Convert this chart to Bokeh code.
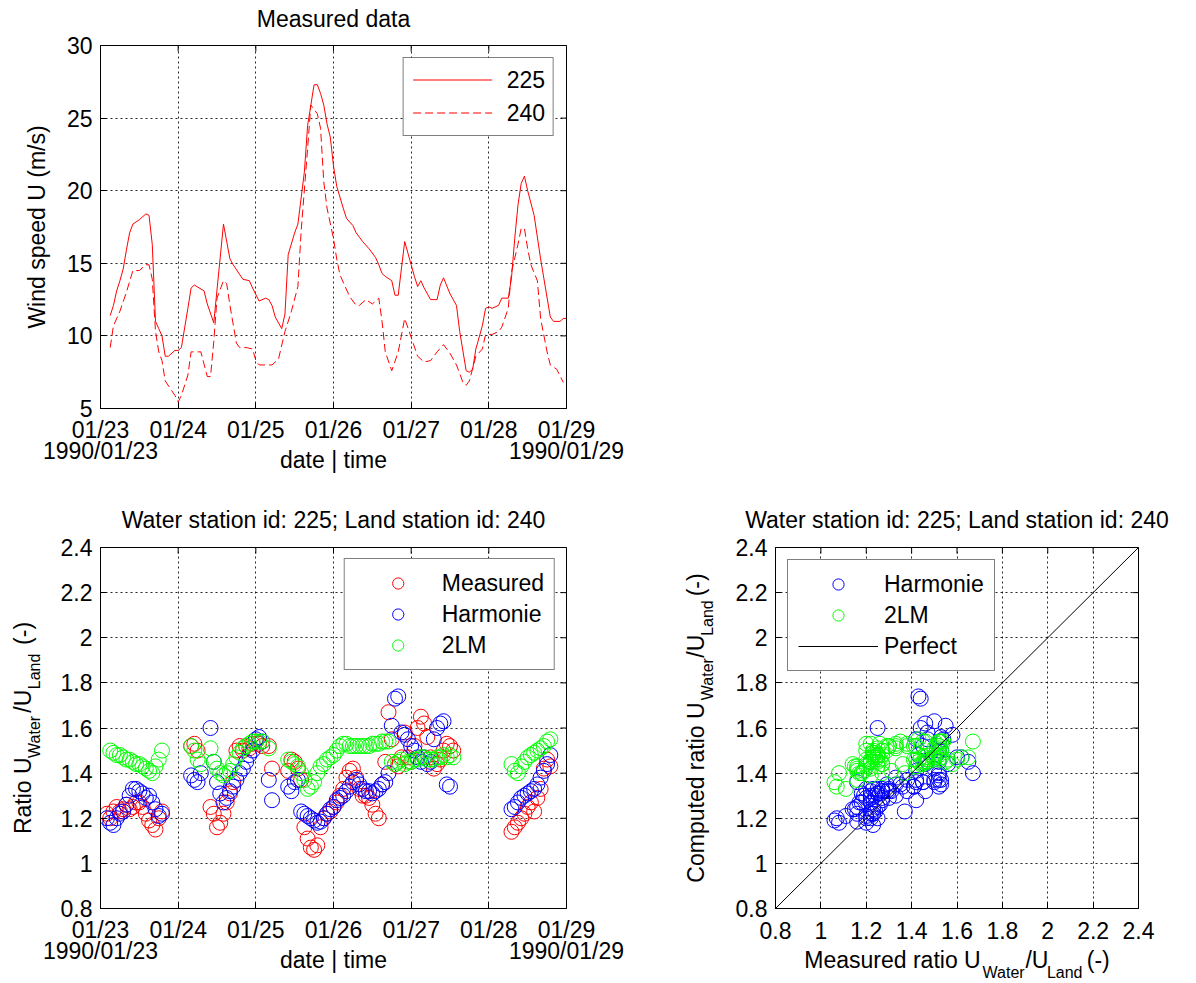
import math
import numpy as np
from bokeh.plotting import figure
from bokeh.models import Range1d, FixedTicker, LinearAxis, Legend, LegendItem, BoxAnnotation
from bokeh.layouts import column, row
from bokeh.embed import file_html
from bokeh.resources import INLINE

FONT = "Liberation Sans"
FS = 23
FSS = 16
NBSP = "\u00a0"

# ---------------- data ----------------
day_ticks = [0, 24, 48, 72, 96, 120, 144]            # hours after 1990/01/23 00:00
day_labels = ["01/23", "01/24", "01/25", "01/26", "01/27", "01/28", "01/29"]
start_label = "1990/01/23"
end_label = "1990/01/29"
speed_ticks = [5, 10, 15, 20, 25, 30]
ratio_ticks = [0.8, 1.0, 1.2, 1.4, 1.6, 1.8, 2.0, 2.2, 2.4]
ratio_tick_labels = ["0.8", "1", "1.2", "1.4", "1.6", "1.8", "2", "2.2", "2.4"]

hours_225 = [3, 4, 5, 6, 7, 8, 9, 10, 12, 14, 15, 16, 17, 18, 19, 20, 21, 23, 24, 25, 27, 28, 29, 32, 33,
             35, 38, 40, 41, 44, 46, 47, 49, 51, 52, 53, 54, 56, 57, 58, 60, 61, 63, 64, 66, 67, 68, 69,
             70, 71, 72, 73, 75, 76, 78, 79, 81, 83, 85, 86, 87, 88, 90, 91, 92, 94, 96, 97, 98, 99, 100,
             102, 104, 105, 106, 108, 110, 111, 113, 114, 115, 116, 118, 119, 120, 121, 123, 124, 126,
             127, 128, 129, 130, 131, 132, 134, 136, 139, 140, 142, 143, 144]
speed_225 = [11.4, 12.1, 13.1, 13.8, 14.6, 15.9, 17.1, 17.7, 18.0, 18.4, 18.3, 16.3, 11.0, 10.5, 10.0,
             8.6, 8.6, 9.0, 9.0, 9.2, 11.9, 13.3, 13.5, 13.1, 12.2, 10.9, 17.7, 15.3, 14.9, 13.9, 13.8,
             13.3, 12.4, 12.6, 12.5, 12.1, 11.3, 10.5, 11.5, 15.6, 17.1, 17.7, 21.3, 24.5, 27.3, 27.3,
             26.7, 25.9, 24.6, 23.7, 21.7, 20.3, 18.8, 18.1, 17.6, 17.1, 16.5, 16.0, 15.4, 14.9, 14.3,
             14.1, 13.8, 12.8, 12.8, 16.5, 14.9, 14.1, 13.4, 13.8, 13.3, 12.5, 12.5, 13.5, 14.0, 12.9,
             12.1, 10.3, 7.6, 7.5, 7.7, 9.1, 10.7, 11.9, 12.0, 11.9, 12.1, 12.6, 12.6, 14.0, 16.7, 19.0,
             20.5, 21.0, 20.0, 18.3, 15.3, 11.3, 11.0, 11.0, 11.2, 11.2]

hours_240 = [3, 4, 6, 8, 10, 12, 14, 15, 16, 17, 18, 19, 20, 23, 24, 25, 27, 28, 31, 33, 34, 35, 36, 38,
             39, 40, 42, 43, 45, 47, 48, 49, 51, 53, 55, 57, 59, 61, 62, 64, 65, 67, 68, 69, 70, 72, 73,
             74, 77, 79, 80, 82, 84, 86, 87, 88, 90, 92, 94, 96, 98, 100, 102, 104, 106, 108, 110, 112,
             113, 114, 116, 118, 119, 121, 123, 124, 126, 127, 129, 130, 131, 132, 133, 135, 136, 138,
             139, 141, 143]
speed_240 = [9.2, 10.7, 11.7, 13.0, 14.5, 14.5, 14.9, 14.9, 13.9, 10.3, 8.9, 8.3, 6.9, 5.9, 5.45, 5.9,
             7.3, 8.9, 8.9, 7.2, 7.2, 9.6, 12.6, 13.8, 13.6, 12.1, 9.5, 9.2, 9.2, 9.1, 8.3, 8.0, 8.0, 8.0,
             8.4, 10.3, 11.7, 13.4, 17.2, 22.9, 25.9, 25.3, 24.3, 20.6, 18.8, 16.7, 15.3, 14.2, 12.7,
             12.1, 12.1, 12.5, 12.2, 12.6, 11.0, 8.9, 7.6, 8.9, 11.2, 9.9, 8.6, 8.2, 8.3, 8.9, 9.4, 8.8,
             8.0, 6.8, 6.6, 6.9, 8.6, 9.1, 10.1, 10.1, 10.3, 10.6, 11.9, 14.4, 16.3, 17.4, 17.4, 16.0,
             14.9, 13.8, 11.2, 8.9, 8.0, 7.7, 6.8]

# hourly ratio samples, grouped in the periods that have data (start hour of each period)
segment_starts = [2, 28, 34, 58, 127]
ratio_measured_segments = [
    [1.22, 1.20, 1.23, 1.25, 1.23, 1.24, 1.26, 1.24, 1.25, 1.27, 1.27, 1.25, 1.22, 1.19, 1.17, 1.15, 1.20, 1.23],
    [1.52, 1.53, 1.50, None],
    [1.25, 1.22, 1.16, 1.18, 1.22, 1.27, 1.31, 1.36, 1.50, 1.52, 1.50, 1.52, 1.51, 1.53, 1.54, 1.53, 1.52,
     None, 1.52, 1.42],
    [1.41, 1.46, 1.45, 1.42, 1.37, 1.16, 1.11, 1.07, 1.06, 1.08, 1.16, 1.20, 1.22, 1.23, 1.25, 1.27, 1.30,
     1.33, 1.38, 1.41, 1.42, 1.38, 1.33, 1.30, 1.30, 1.29, 1.26, 1.22, 1.20, 1.35, 1.45, 1.67, 1.55, 1.44,
     1.43, 1.47, 1.58, 1.47, 1.45, 1.52, 1.60, 1.65, 1.62, 1.56, 1.47, 1.42, 1.44, 1.46, 1.50, 1.53, 1.52,
     1.50],
    [1.14, 1.16, 1.18, 1.20, 1.22, 1.25, 1.27, 1.23, 1.29, 1.33, 1.42, 1.46, 1.43],
]
ratio_harmonie_segments = [
    [1.20, 1.18, 1.17, 1.20, 1.22, 1.23, 1.26, 1.30, 1.33, 1.33, 1.32, 1.31, 1.29, 1.30, 1.27, 1.24, 1.21, 1.22],
    [1.39, 1.37, 1.36, 1.40],
    [1.60, 1.45, 1.36, 1.31, 1.27, 1.29, 1.32, 1.34, 1.37, 1.40, 1.42, 1.45, 1.48, 1.50, 1.55, 1.56, 1.54,
     None, 1.37, 1.28],
    [1.34, 1.32, 1.36, 1.37, 1.23, 1.22, 1.21, 1.20, 1.19, 1.18, 1.185, 1.20, 1.22, 1.24, 1.25, 1.28, 1.29,
     1.30, 1.32, 1.34, 1.36, 1.37, 1.35, 1.33, 1.32, 1.32, 1.31, 1.32, 1.33, 1.35, 1.36, 1.40, 1.61, 1.73,
     1.74, 1.58, 1.57, 1.55, 1.52, 1.50, 1.47, 1.45, 1.47, 1.44, 1.45, 1.55, 1.60, 1.62, 1.63, 1.35, 1.34,
     None],
    [1.24, 1.25, 1.27, 1.29, 1.30, 1.31, 1.32, 1.33, 1.35, 1.38, 1.41, 1.44, 1.48],
]
ratio_2lm_segments = [
    [None, 1.50, 1.49, 1.48, 1.48, 1.47, 1.46, 1.46, 1.45, 1.44, 1.44, 1.43, 1.42, 1.41, 1.40, 1.43, 1.46, 1.50],
    [1.52, 1.50, 1.46, 1.44],
    [1.51, 1.45, 1.42, 1.40, 1.39, 1.40, 1.41, 1.44, 1.47, 1.49, 1.51, 1.52, 1.53, 1.54, 1.54, 1.54, 1.54,
     None, 1.51, None],
    [1.46, 1.45, 1.44, 1.43, 1.40, 1.37, 1.33, 1.34, 1.36, 1.40, 1.43, 1.44, 1.46, 1.47, 1.48, 1.50, 1.52,
     1.53, 1.53, 1.52, 1.52, 1.52, 1.52, 1.52, 1.52, 1.52, 1.53, 1.53, 1.53, 1.54, 1.54, 1.54, 1.45, 1.44,
     1.45, 1.46, 1.44, 1.45, 1.45, 1.46, 1.46, 1.47, 1.47, 1.46, 1.46, 1.46, 1.47, 1.47, 1.48, 1.47, 1.48,
     1.47],
    [1.44, 1.41, 1.40, 1.43, 1.45, 1.47, 1.48, 1.49, 1.50, 1.51, 1.52, 1.54, 1.55],
]
perfect_xy = [0.8, 2.4]


def flatten(segs):
    return np.array([np.nan if v is None else v for s in segs for v in s], dtype=float)


ratio_hours = np.array([s + i for s, seg in zip(segment_starts, ratio_measured_segments)
                        for i in range(len(seg))], dtype=float)
ratio_measured = flatten(ratio_measured_segments)
ratio_harmonie = flatten(ratio_harmonie_segments)
ratio_2lm = flatten(ratio_2lm_segments)

# ---------------- helpers ----------------
ARIAL = {' ': .278, '(': .333, ')': .333, '-': .333, '.': .278, '/': .278, ':': .278, ';': .278, '|': .26,
         'C': .722, 'L': .556, 'M': .833, 'R': .722, 'U': .722, 'W': .944,
         'a': .556, 'c': .5, 'd': .556, 'e': .556, 'i': .222, 'm': .833, 'n': .556, 'o': .556, 'p': .556,
         'r': .333, 's': .5, 't': .278, 'u': .556}


def text_w(s, size):
    return sum(ARIAL.get(c, .556) for c in s) * size


def split_lines(parts):
    """main line and subscript line, padded with no-break spaces so the pieces line up"""
    sp_m, sp_s = ARIAL[' '] * FS, ARIAL[' '] * FSS
    main, sub, xm, xs = "", "", 0.0, 0.0
    for text, is_sub in parts:
        if is_sub:
            n = max(0, round((xm - xs) / sp_s))
            sub += NBSP * n + text
            xs += n * sp_s + text_w(text, FSS)
            n = max(0, round((xs - xm) / sp_m))
            main += NBSP * n
            xm += n * sp_m
        else:
            main += text
            xm += text_w(text, FS)
    if xm > xs:
        sub += NBSP * round((xm - xs) / sp_s)
    else:
        main += NBSP * round((xs - xm) / sp_m)
    return main, sub


def style_axis(ax):
    ax.axis_line_color = "black"
    ax.axis_line_width = 1
    ax.major_tick_in = 6
    ax.major_tick_out = 0
    ax.major_tick_line_color = "black"
    ax.minor_tick_line_color = None
    ax.major_label_text_font = FONT
    ax.major_label_text_font_size = f"{FS}px"
    ax.major_label_text_color = "black"
    ax.axis_label_text_font = FONT
    ax.axis_label_text_font_size = f"{FS}px"
    ax.axis_label_text_font_style = "normal"
    ax.axis_label_text_color = "black"


def text_axis(text, size, standoff):
    """an axis with no ticks that only carries a text (title or part of a label)"""
    ax = LinearAxis(ticker=FixedTicker(ticks=[]), axis_label=text)
    ax.axis_line_color = None
    ax.major_tick_line_color = None
    ax.minor_tick_line_color = None
    ax.major_tick_out = 0
    ax.major_tick_in = 0
    ax.major_label_standoff = 0
    ax.axis_label_text_font = FONT
    ax.axis_label_text_font_size = f"{size}px"
    ax.axis_label_text_font_style = "normal"
    ax.axis_label_text_color = "black"
    ax.axis_label_standoff = standoff
    return ax


def setup(p, xticks, xover, yticks, yover, title, title_standoff, x_standoff):
    xt = FixedTicker(ticks=xticks)
    yt = FixedTicker(ticks=yticks)
    xa, ya = p.below[0], p.left[0]
    xa.ticker = xt
    ya.ticker = yt
    xa.major_label_overrides = xover
    ya.major_label_overrides = yover
    style_axis(xa)
    style_axis(ya)
    xa.major_label_standoff = x_standoff
    xa.major_label_text_line_height = 0.83
    ya.major_label_standoff = 8
    p.xgrid.ticker = xt
    p.ygrid.ticker = yt
    for g in list(p.xgrid) + list(p.ygrid):
        g.grid_line_color = "black"
        g.grid_line_dash = "2 3"
        g.grid_line_width = 1
        g.grid_line_alpha = 0.85
    # inner tick marks on the top and right edges of the box (half of each dash is clipped)
    xr, yr = p.x_range, p.y_range
    p.scatter(xticks, [yr.end] * len(xticks), marker="dash", angle=math.pi / 2, size=12,
              line_color="black", line_width=1)
    p.scatter([xr.end] * len(yticks), yticks, marker="dash", size=12, line_color="black", line_width=1)
    p.add_layout(text_axis(title, FS, title_standoff), "above")
    p.outline_line_color = "black"
    p.outline_line_width = 1
    p.background_fill_color = "white"
    p.border_fill_color = "white"
    return xa, ya


def make_legend(items, location, margin, padding, gw, gh, standoff, spacing, bg_alpha=1.0):
    return Legend(items=items, location=location, margin=margin, padding=padding, glyph_width=gw,
                  glyph_height=gh, label_height=gh, label_standoff=standoff, spacing=spacing,
                  label_text_font=FONT, label_text_font_size=f"{FS}px", label_text_color="black",
                  border_line_color="black", border_line_width=1.5, background_fill_color="white",
                  background_fill_alpha=bg_alpha)


day_over = {t: l for t, l in zip(day_ticks, day_labels)}
day_over[day_ticks[0]] = day_labels[0] + "\n" + start_label
day_over[day_ticks[-1]] = day_labels[-1] + "\n" + end_label
ratio_over = {t: l for t, l in zip(ratio_ticks, ratio_tick_labels)}
speed_over = {t: str(t) for t in speed_ticks}

ratio_label = [("U", False), ("Water", True), ("/U", False), ("Land", True), (" (-)", False)]

# ---------------- top: measured wind speed ----------------
FW1, FH1 = 466, 363
p1 = figure(width=640, height=490, x_range=Range1d(0, 144), y_range=Range1d(5, 30),
            output_backend="svg", toolbar_location=None,
            min_border_left=100, min_border_right=74, min_border_top=45, min_border_bottom=82)
xa1, ya1 = setup(p1, day_ticks, day_over, speed_ticks, speed_over, "Measured data", 14, 8)
ya1.axis_label = "Wind speed U (m/s)"
ya1.axis_label_standoff = 14
xa1.axis_label = "date | time"
xa1.axis_label_standoff = -20
line_dash_px = {"225": None, "240": (8, 4)}         # dash on/off lengths in pixels

# legend geometry (pixels from the frame's top-right corner)
L_MARGIN, L_PAD, L_GW, L_GH, L_STAND, L_SPACE = 12, 8, 79, 28, 16, 5
names = list(line_dash_px)
kx = (p1.x_range.end - p1.x_range.start) / FW1
ky = (p1.y_range.end - p1.y_range.start) / FH1
box_w = 2 * L_PAD + L_GW + L_STAND + max(text_w(n, FS) for n in names)
box_h = 2 * L_PAD + len(names) * L_GH + (len(names) - 1) * L_SPACE
bx0 = FW1 - L_MARGIN - box_w
# white legend background, painted above the grid but below all glyphs
p1.add_layout(BoxAnnotation(left=p1.x_range.start + bx0 * kx,
                            right=p1.x_range.start + (FW1 - L_MARGIN) * kx,
                            top=p1.y_range.end - L_MARGIN * ky,
                            bottom=p1.y_range.end - (L_MARGIN + box_h) * ky,
                            fill_color="white", fill_alpha=1.0, line_color=None, level="underlay"))

p1.line(hours_225, speed_225, line_color="#ff0000", line_width=1)
p1.line(hours_240, speed_240, line_color="#ff0000", line_width=1, line_dash="8 4")

# legend line samples as thin filled strips (1 px high), dashed sample split into pieces
gx0 = bx0 + L_PAD
lefts, rights, tops, bottoms = [], [], [], []
for i, name in enumerate(names):
    cy = round(L_MARGIN + L_PAD + L_GH / 2 + i * (L_GH + L_SPACE))
    pieces = [(0.0, L_GW)]
    if line_dash_px[name]:
        on, off = line_dash_px[name]
        pieces, s = [], 0.0
        while s < L_GW:
            pieces.append((s, min(s + on, L_GW)))
            s += on + off
    for a, b in pieces:
        lefts.append(p1.x_range.start + (gx0 + a) * kx)
        rights.append(p1.x_range.start + (gx0 + b) * kx)
        tops.append(p1.y_range.end - cy * ky)
        bottoms.append(p1.y_range.end - (cy + 1) * ky)
p1.quad(left=lefts, right=rights, top=tops, bottom=bottoms, fill_color="#ff0000", line_color=None)
items = []
for name in names:
    empty = p1.line([], [], line_color="#ff0000", line_width=1)
    items.append(LegendItem(label=name, renderers=[empty]))
p1.add_layout(make_legend(items, "top_right", L_MARGIN, L_PAD, L_GW, L_GH, L_STAND, L_SPACE, 0.0))

# ---------------- bottom left: ratio time series ----------------
title_txt = "Water station id: 225; Land station id: 240"
p2 = figure(width=640, height=493, x_range=Range1d(0, 144), y_range=Range1d(0.8, 2.4),
            output_backend="svg", toolbar_location=None,
            min_border_left=100, min_border_right=74, min_border_top=57, min_border_bottom=75)
xa2, ya2 = setup(p2, day_ticks, day_over, ratio_ticks, ratio_over, title_txt, 15, 8)
xa2.axis_label = "date | time"
xa2.axis_label_standoff = -20
main2, sub2 = split_lines([("Ratio ", False)] + ratio_label)
ya2.axis_label = sub2
ya2.axis_label_text_font_size = f"{FSS}px"
ya2.axis_label_standoff = 15
p2.add_layout(text_axis(main2, FS, -13), "left")
rm = p2.scatter(ratio_hours, ratio_measured, marker="circle", size=15, fill_color=None,
                line_color="#ff0000", line_width=1)
rh = p2.scatter(ratio_hours, ratio_harmonie, marker="circle", size=15, fill_color=None,
                line_color="#0000ff", line_width=1)
rg = p2.scatter(ratio_hours, ratio_2lm, marker="circle", size=15, fill_color=None,
                line_color="#00ff00", line_width=1)
p2.add_layout(make_legend([LegendItem(label="Measured", renderers=[rm]),
                           LegendItem(label="Harmonie", renderers=[rh]),
                           LegendItem(label="2LM", renderers=[rg])],
                          "top_right", 11, 10, 86, 28, 1, 3))

# ---------------- bottom right: computed vs measured ----------------
p3 = figure(width=556, height=493, x_range=Range1d(0.8, 2.4), y_range=Range1d(0.8, 2.4),
            output_backend="svg", toolbar_location=None,
            min_border_left=135, min_border_right=58, min_border_top=57, min_border_bottom=75)
xa3, ya3 = setup(p3, ratio_ticks, ratio_over, ratio_ticks, ratio_over, title_txt, 15, 13)
main3x, sub3x = split_lines([("Measured ratio ", False)] + ratio_label)
xa3.axis_label = main3x
xa3.axis_label_standoff = 5
p3.add_layout(text_axis(sub3x, FSS, -12), "below")
main3y, sub3y = split_lines([("Computed ratio ", False)] + ratio_label)
ya3.axis_label = sub3y
ya3.axis_label_text_font_size = f"{FSS}px"
ya3.axis_label_standoff = 17
p3.add_layout(text_axis(main3y, FS, -13), "left")
sh = p3.scatter(ratio_measured, ratio_harmonie, marker="circle", size=15, fill_color=None,
                line_color="#0000ff", line_width=1)
sg = p3.scatter(ratio_measured, ratio_2lm, marker="circle", size=15, fill_color=None,
                line_color="#00ff00", line_width=1)
pl = p3.line(perfect_xy, perfect_xy, line_color="black", line_width=1)
p3.add_layout(make_legend([LegendItem(label="Harmonie", renderers=[sh]),
                           LegendItem(label="2LM", renderers=[sg]),
                           LegendItem(label="Perfect", renderers=[pl])],
                          "top_left", 12, 10, 80, 28, 6, 3))

layout = column(p1, row(p2, p3))
open("out.html", "w").write(file_html(layout, INLINE))
